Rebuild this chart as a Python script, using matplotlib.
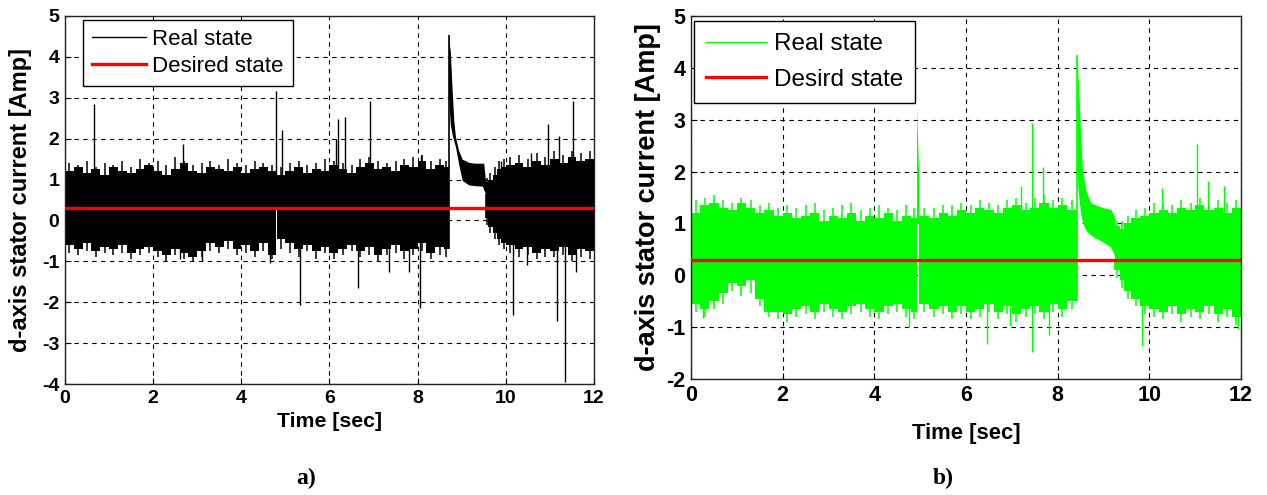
#!/usr/bin/env python3

import numpy as np
import matplotlib
matplotlib.use('Agg')
import matplotlib.pyplot as plt

plt.rcParams['font.family'] = ['Liberation Sans', 'DejaVu Sans']
plt.rcParams['axes.unicode_minus'] = False

# ---------------- panel a) : black signal ----------------
# noise band read from the picture as upper / lower envelope, sampled every 0.2 s
a_t1 = [0.0, 0.2, 0.4, 0.6, 0.8, 1.0, 1.2, 1.4, 1.6, 1.8, 2.0, 2.2,
        2.4, 2.6, 2.8, 3.0, 3.2, 3.4, 3.6, 3.8, 4.0, 4.2, 4.4, 4.6]
a_hi1 = [1.20, 1.30, 1.15, 1.25, 1.10, 1.30, 1.20, 1.15, 1.25, 1.35, 1.20, 1.10,
         1.25, 1.40, 1.20, 1.15, 1.30, 1.25, 1.20, 1.30, 1.15, 1.25, 1.30, 1.20]
a_lo1 = [-0.60, -0.70, -0.55, -0.75, -0.65, -0.70, -0.60, -0.80, -0.70, -0.65, -0.75, -0.85,
         -0.70, -0.80, -0.90, -0.75, -0.55, -0.65, -0.50, -0.70, -0.60, -0.75, -0.55, -0.85]
# sharper peaks between envelope samples
a_pk_hi1 = [1.40, 1.35, 1.45, 1.30, 1.40, 1.35, 1.45, 1.30, 1.50, 1.40, 1.45, 1.35,
            1.55, 1.45, 1.35, 1.40, 1.45, 1.35, 1.50, 1.40, 1.35, 1.45, 1.40, 1.35]
a_pk_lo1 = [-0.80, -0.85, -0.75, -0.90, -0.80, -0.85, -0.80, -0.95, -0.85, -0.80, -0.90, -1.00,
            -0.85, -0.95, -1.00, -0.90, -0.75, -0.80, -0.70, -0.85, -0.80, -0.90, -0.75, -0.95]

a_t2 = [4.81, 5.0, 5.2, 5.4, 5.6, 5.8, 6.0, 6.2, 6.4, 6.6,
        6.8, 7.0, 7.2, 7.4, 7.6, 7.8, 8.0, 8.2, 8.4, 8.6]
a_hi2 = [1.10, 1.20, 1.30, 1.15, 1.25, 1.20, 1.35, 1.25, 1.15, 1.30,
         1.40, 1.25, 1.30, 1.20, 1.35, 1.30, 1.45, 1.25, 1.35, 1.30]
a_lo2 = [-0.45, -0.55, -0.70, -0.60, -0.75, -0.65, -0.80, -0.70, -0.60, -0.75,
         -0.65, -0.85, -0.70, -0.60, -0.75, -0.70, -0.55, -0.80, -0.65, -0.70]
a_pk_hi2 = [1.30, 1.40, 1.45, 1.35, 1.40, 1.50, 1.45, 1.40, 1.35, 1.50,
            1.55, 1.45, 1.40, 1.45, 1.50, 1.55, 1.60, 1.45, 1.50, 1.45]
a_pk_lo2 = [-0.70, -0.80, -0.90, -0.75, -0.95, -0.80, -0.95, -0.85, -0.75, -0.90,
            -0.85, -1.00, -0.85, -0.80, -0.95, -0.85, -0.75, -0.95, -0.85, -0.90]

a_t3 = [9.54, 9.6, 9.7, 9.8, 9.9, 10.0, 10.2, 10.4, 10.6, 10.8,
        11.0, 11.2, 11.4, 11.6, 11.8]
a_hi3 = [0.95, 1.00, 1.10, 1.25, 1.30, 1.35, 1.40, 1.30, 1.45, 1.35,
         1.50, 1.40, 1.55, 1.45, 1.50]
a_lo3 = [0.05, -0.15, -0.30, -0.45, -0.55, -0.60, -0.70, -0.65, -0.80, -0.70,
         -0.75, -0.65, -0.85, -0.70, -0.75]
a_pk_hi3 = [1.05, 1.15, 1.30, 1.45, 1.50, 1.55, 1.60, 1.50, 1.65, 1.55,
            1.70, 1.60, 1.70, 1.65, 1.70]
a_pk_lo3 = [-0.10, -0.30, -0.45, -0.60, -0.70, -0.80, -0.90, -0.85, -0.95, -0.90,
            -0.90, -0.85, -1.00, -0.90, -0.95]

# transient after the load change
a_tr_t = [8.70, 8.72, 8.74, 8.78, 8.82, 8.86, 8.93, 9.01, 9.16, 9.30, 9.47, 9.50, 9.54]
a_tr_hi = [4.54, 4.30, 4.15, 3.25, 2.44, 2.03, 1.71, 1.50, 1.42, 1.40, 1.40, 1.40, 0.95]
a_tr_lo = [3.09, 2.70, 2.36, 2.11, 1.95, 1.79, 1.38, 0.98, 0.87, 0.85, 0.84, 0.75, 0.65]

# isolated spikes (time, peak value)
a_up_t = [0.66, 2.67, 4.79, 4.92, 6.15, 6.19, 6.35, 6.91, 8.07, 9.90, 10.57, 10.95, 11.21, 11.52]
a_up_v = [2.85, 1.87, 3.17, 2.20, 2.00, 2.48, 2.54, 2.93, 1.60, 1.46, 1.65, 2.36, 2.07, 2.93]
a_dn_t = [2.61, 3.10, 4.64, 5.33, 6.65, 7.36, 7.80, 8.05, 10.17, 10.49, 11.15, 11.34, 11.60]
a_dn_v = [-0.95, -1.00, -1.05, -2.07, -1.65, -1.27, -1.25, -2.13, -2.31, -1.10, -2.46, -3.94, -1.26]

# ---------------- panel b) : green signal ----------------
b_t1 = [0.0, 0.2, 0.4, 0.6, 0.8, 1.0, 1.2, 1.4, 1.6, 1.8, 2.0, 2.2, 2.4,
        2.6, 2.8, 3.0, 3.2, 3.4, 3.6, 3.8, 4.0, 4.2, 4.4, 4.6, 4.8]
b_hi1 = [1.20, 1.35, 1.40, 1.30, 1.25, 1.40, 1.30, 1.20, 1.25, 1.15, 1.20, 1.10, 1.15,
         1.20, 1.05, 1.15, 1.10, 1.20, 1.05, 1.15, 1.10, 1.20, 1.05, 1.15, 1.10]
b_lo1 = [-0.55, -0.65, -0.50, -0.35, -0.15, -0.20, -0.10, -0.45, -0.70, -0.70, -0.75, -0.65, -0.60,
         -0.70, -0.55, -0.65, -0.70, -0.60, -0.55, -0.65, -0.70, -0.60, -0.55, -0.65, -0.70]
b_pk_hi1 = [1.45, 1.50, 1.55, 1.45, 1.40, 1.50, 1.45, 1.35, 1.40, 1.30, 1.35, 1.30, 1.35,
            1.40, 1.25, 1.30, 1.35, 1.40, 1.25, 1.30, 1.35, 1.30, 1.25, 1.35, 1.30]
b_pk_lo1 = [-0.70, -0.80, -0.65, -0.55, -0.30, -0.40, -0.35, -0.60, -0.80, -0.85, -0.90, -0.80, -0.75,
            -0.85, -0.70, -0.80, -0.85, -0.75, -0.70, -0.80, -0.85, -0.75, -0.70, -0.80, -0.85]

b_t2 = [4.97, 5.2, 5.4, 5.6, 5.8, 6.0, 6.2, 6.4, 6.6, 6.8,
        7.0, 7.2, 7.4, 7.6, 7.8, 8.0, 8.2]
b_hi2 = [1.15, 1.10, 1.20, 1.15, 1.25, 1.20, 1.30, 1.25, 1.20, 1.30,
         1.35, 1.25, 1.30, 1.40, 1.30, 1.35, 1.25]
b_lo2 = [-0.55, -0.65, -0.60, -0.70, -0.60, -0.70, -0.65, -0.55, -0.70, -0.60,
         -0.75, -0.65, -0.60, -0.70, -0.55, -0.65, -0.50]
b_pk_hi2 = [1.30, 1.30, 1.35, 1.35, 1.40, 1.35, 1.45, 1.40, 1.35, 1.45,
            1.50, 1.40, 1.50, 1.55, 1.45, 1.50, 1.45]
b_pk_lo2 = [-0.70, -0.80, -0.75, -0.85, -0.75, -0.85, -0.80, -0.70, -0.85, -0.75,
            -0.90, -0.80, -0.75, -0.85, -0.70, -0.80, -0.65]

b_t3 = [9.25, 9.35, 9.45, 9.6, 9.8, 10.0, 10.2, 10.4, 10.6, 10.8,
        11.0, 11.2, 11.4, 11.6, 11.8]
b_hi3 = [0.95, 0.90, 1.00, 1.10, 1.15, 1.20, 1.25, 1.20, 1.30, 1.25,
         1.35, 1.25, 1.30, 1.20, 1.30]
b_lo3 = [0.10, -0.10, -0.30, -0.45, -0.60, -0.65, -0.70, -0.60, -0.75, -0.65,
         -0.70, -0.60, -0.75, -0.65, -0.80]
b_pk_hi3 = [1.05, 1.05, 1.15, 1.25, 1.30, 1.40, 1.40, 1.35, 1.45, 1.40,
            1.50, 1.40, 1.45, 1.40, 1.45]
b_pk_lo3 = [-0.05, -0.25, -0.45, -0.60, -0.75, -0.80, -0.85, -0.75, -0.90, -0.80,
            -0.85, -0.75, -0.90, -0.80, -0.95]

b_tr_t = [8.42, 8.47, 8.50, 8.54, 8.61, 8.65, 8.72, 8.79, 8.87, 9.01, 9.16, 9.23, 9.25]
b_tr_hi = [4.25, 3.39, 2.69, 2.04, 1.66, 1.55, 1.40, 1.37, 1.34, 1.30, 1.27, 1.15, 1.08]
b_tr_lo = [1.98, 1.40, 1.20, 1.02, 0.88, 0.83, 0.78, 0.73, 0.70, 0.63, 0.54, 0.40, 0.31]

# short spike near 4.9 s
b_sp_t = [4.92, 4.935, 4.95, 4.97]
b_sp_hi = [3.25, 2.81, 2.43, 1.86]
b_sp_lo = [1.00, 1.00, 1.00, 1.00]

b_up_t = [7.21, 7.45, 7.69, 10.27, 11.03, 11.27, 11.63]
b_up_v = [1.73, 2.94, 2.08, 1.69, 2.53, 1.82, 1.72]
b_dn_t = [0.27, 4.76, 6.45, 6.96, 7.43, 7.80, 9.83, 11.94]
b_dn_v = [-0.83, -1.00, -1.32, -0.97, -1.48, -1.16, -1.36, -1.03]

desired = 0.3


def band(ax, t, lo, hi, pk_lo, pk_hi, t_end, color):
    """Noise band: stepped envelope ending at t_end, plus thin peaks between samples."""
    tt = np.append(t, t_end)
    ax.fill_between(tt, np.append(lo, lo[-1]), np.append(hi, hi[-1]),
                    step='post', color=color, lw=0, zorder=2)
    mids = (tt[:-1] + tt[1:]) / 2
    ax.vlines(mids, desired, pk_hi, color=color, lw=1.1, zorder=2)
    ax.vlines(mids, desired, pk_lo, color=color, lw=1.1, zorder=2)


def style_axes(ax, ylim, yticks, fs_tick, fs_xlab, fs_ylab, xlab_y, ylab_x):
    ax.set_xlim(0, 12)
    ax.set_ylim(*ylim)
    ax.set_xticks(range(0, 13, 2))
    ax.set_yticks(yticks)
    ax.grid(True, color='black', linestyle=(0, (4, 4)), lw=0.8)
    ax.set_axisbelow(True)
    ax.tick_params(direction='in', length=4, labelsize=fs_tick, pad=4)
    for lab in ax.get_xticklabels() + ax.get_yticklabels():
        lab.set_fontweight('bold')
    for sp in ax.spines.values():
        sp.set_linewidth(1.0)
        sp.set_color('#222222')
    ax.set_xlabel('Time [sec]', fontsize=fs_xlab, fontweight='bold', va='center')
    ax.xaxis.set_label_coords(0.5, xlab_y)
    ax.set_ylabel('d-axis stator current [Amp]', fontsize=fs_ylab, fontweight='bold', va='center')
    ax.yaxis.set_label_coords(ylab_x, 0.5)


fig = plt.figure(figsize=(12.67, 4.95), dpi=100)

# panel a
ax1 = fig.add_axes([0.0513, 0.2242, 0.4175, 0.7435])
band(ax1, a_t1, a_lo1, a_hi1, a_pk_lo1, a_pk_hi1, 4.78, 'black')
ax1.fill_between([4.78, 4.81], [0.30, 0.30], [1.10, 1.10], color='black', lw=0, zorder=2)
band(ax1, a_t2, a_lo2, a_hi2, a_pk_lo2, a_pk_hi2, 8.70, 'black')
ax1.fill_between(a_tr_t, a_tr_lo, a_tr_hi, color='black', lw=0, zorder=2)
ax1.vlines(a_tr_t[0], a_lo2[-1], a_tr_hi[0], color='black', lw=1.2, zorder=2)
ax1.vlines(a_tr_t[-1], a_lo3[0], a_tr_lo[-1], color='black', lw=1.2, zorder=2)
band(ax1, a_t3, a_lo3, a_hi3, a_pk_lo3, a_pk_hi3, 12.0, 'black')
ax1.vlines(a_up_t, desired, a_up_v, color='black', lw=1.0, zorder=2)
ax1.vlines(a_dn_t, desired, a_dn_v, color='black', lw=1.0, zorder=2)
ax1.plot([], [], color='black', lw=1.0, label='Real state')
ax1.plot([0, 12], [desired, desired], color='red', lw=2.4, zorder=3, label='Desired state')
style_axes(ax1, (-4, 5), range(-4, 6), 14, 15.3, 17, -0.103, -0.085)
ax1.legend(loc='upper left', bbox_to_anchor=(0.0655, 0.9596), bbox_transform=fig.transFigure,
           fontsize=16, frameon=True, fancybox=False, edgecolor='black', framealpha=1,
           handlelength=2.45, handletextpad=0.27, borderpad=0.4, labelspacing=0.28,
           borderaxespad=0).get_frame().set_linewidth(1.0)

# panel b
green = '#00ff00'
ax2 = fig.add_axes([0.5454, 0.2343, 0.4341, 0.7334])
band(ax2, b_t1, b_lo1, b_hi1, b_pk_lo1, b_pk_hi1, 4.93, green)
ax2.fill_between(b_sp_t, b_sp_lo, b_sp_hi, color=green, lw=0, zorder=2)
band(ax2, b_t2, b_lo2, b_hi2, b_pk_lo2, b_pk_hi2, 8.42, green)
ax2.fill_between(b_tr_t, b_tr_lo, b_tr_hi, color=green, lw=0, zorder=2)
ax2.vlines(b_tr_t[0], b_lo2[-1], b_tr_hi[0], color=green, lw=1.2, zorder=2)
ax2.vlines(b_tr_t[-1], b_lo3[0], b_tr_lo[-1], color=green, lw=1.2, zorder=2)
band(ax2, b_t3, b_lo3, b_hi3, b_pk_lo3, b_pk_hi3, 12.0, green)
ax2.vlines(b_up_t, desired, b_up_v, color=green, lw=1.0, zorder=2)
ax2.vlines(b_dn_t, desired, b_dn_v, color=green, lw=1.0, zorder=2)
ax2.plot([], [], color=green, lw=1.0, label='Real state')
ax2.plot([0, 12], [desired, desired], color='red', lw=2.4, zorder=3, label='Desird state')
style_axes(ax2, (-2, 5), range(-2, 6), 15.5, 15.8, 19.5, -0.149, -0.078)
ax2.legend(loc='upper left', bbox_to_anchor=(0.5478, 0.9576), bbox_transform=fig.transFigure,
           fontsize=17.5, frameon=True, fancybox=False, edgecolor='black', framealpha=1,
           handlelength=2.45, handletextpad=0.33, borderpad=0.5, labelspacing=0.55,
           borderaxespad=0).get_frame().set_linewidth(1.0)

fig.text(306 / 1267, 1 - 478 / 495, 'a)', ha='center', va='center', fontsize=17,
         fontweight='bold', family='Liberation Serif')
fig.text(943 / 1267, 1 - 478 / 495, 'b)', ha='center', va='center', fontsize=17,
         fontweight='bold', family='Liberation Serif')

fig.savefig('out.png', dpi=100)
